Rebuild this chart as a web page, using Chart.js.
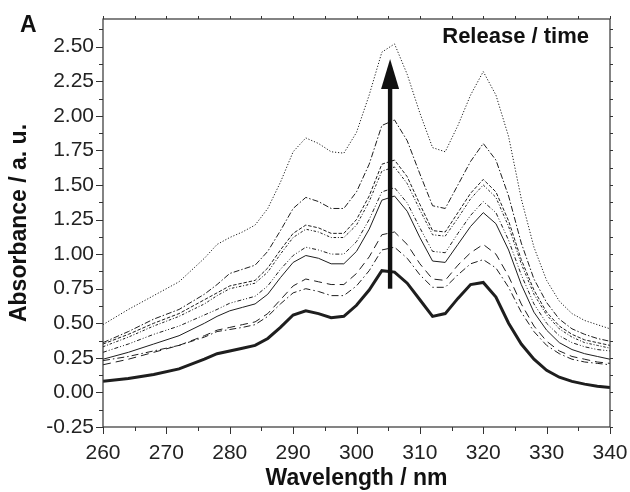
<!DOCTYPE html>
<html>
<head>
<meta charset="utf-8">
<script src="https://cdn.jsdelivr.net/npm/chart.js@4/dist/chart.umd.min.js"></script>
<style>
  html, body { margin: 0; padding: 0; background: #fff; }
  #wrap { width: 630px; height: 492px; position: relative; }
</style>
</head>
<body>
<div id="wrap"><canvas id="c" width="630" height="492"></canvas></div>
<script>
// ---- data ----
const wavelength = [260,264,268,272,276,278,280,282,284,286,288,290,292,294,296,298,300,302,304,306,308,310,312,314,316,318,320,322,324,326,328,330,332,334,336,338,340];

const curveDotted = [0.49,0.60,0.70,0.80,0.97, 1.07,1.12,1.16,1.21,1.33,1.52,1.74, 1.84,1.80,1.74,1.73,1.88,2.15,2.46, 2.52,2.30,2.02,1.77,1.74,1.93,2.15, 2.32,2.15,1.85,1.40,1.05,0.81,0.66, 0.57,0.52,0.49,0.46];
const curveDashDot1 = [0.36,0.44,0.53,0.60,0.71, 0.78,0.86,0.89,0.92,1.02,1.17,1.33, 1.41,1.38,1.33,1.33,1.45,1.65,1.93, 1.97,1.82,1.58,1.35,1.33,1.50,1.67, 1.80,1.68,1.42,1.08,0.82,0.65,0.53, 0.46,0.42,0.39,0.37];
const curveShortDash1 = [0.35,0.42,0.50,0.57,0.67, 0.72,0.77,0.79,0.81,0.90,1.03,1.15, 1.21,1.19,1.15,1.15,1.25,1.42,1.65, 1.68,1.56,1.36,1.17,1.16,1.30,1.44, 1.54,1.45,1.24,0.96,0.74,0.58,0.48, 0.42,0.38,0.36,0.34];
const curveShortDash2 = [0.33,0.40,0.48,0.55,0.64, 0.70,0.75,0.77,0.79,0.87,1.00,1.12, 1.18,1.16,1.12,1.12,1.21,1.38,1.60, 1.63,1.51,1.32,1.14,1.13,1.26,1.40, 1.50,1.41,1.20,0.93,0.71,0.56,0.46, 0.40,0.36,0.34,0.32];
const curveDashDotDot = [0.29,0.35,0.42,0.48,0.56, 0.60,0.645,0.67,0.695,0.77,0.89,0.99, 1.05,1.03,1.00,1.00,1.09,1.25,1.45, 1.48,1.37,1.19,1.02,1.01,1.15,1.28, 1.38,1.30,1.10,0.85,0.64,0.50,0.41, 0.36,0.33,0.31,0.30];
const curveSolid = [0.24,0.29,0.35,0.41,0.50, 0.55,0.59,0.615,0.64,0.71,0.83,0.94, 0.99,0.97,0.93,0.93,1.02,1.18,1.39, 1.42,1.31,1.12,0.95,0.94,1.07,1.20, 1.30,1.22,1.03,0.78,0.58,0.45,0.36, 0.31,0.28,0.26,0.24];
const curveLongDash = [0.20,0.24,0.29,0.34,0.41, 0.45,0.47,0.49,0.51,0.57,0.67,0.77, 0.82,0.80,0.78,0.78,0.86,0.98,1.14, 1.16,1.07,0.93,0.82,0.81,0.92,1.01, 1.07,1.00,0.84,0.64,0.48,0.37,0.30, 0.26,0.24,0.22,0.21];
const curveDashDot2 = [0.23,0.26,0.30,0.34,0.40, 0.44,0.455,0.47,0.49,0.55,0.64,0.72, 0.75,0.73,0.70,0.70,0.77,0.88,1.03, 1.05,0.97,0.85,0.76,0.76,0.85,0.93, 0.96,0.90,0.76,0.58,0.44,0.34,0.28, 0.24,0.22,0.21,0.20];
const curveInitial = [0.08,0.10,0.13,0.17,0.24, 0.28,0.30,0.32,0.34,0.39,0.47,0.56, 0.59,0.57,0.54,0.55,0.63,0.74,0.88, 0.87,0.79,0.67,0.55,0.57,0.68,0.78, 0.795,0.69,0.50,0.35,0.24,0.16,0.11, 0.08,0.06,0.045,0.035];

const xTicks = [260,270,280,290,300,310,320,330,340];
const yTicks = [-0.25,0,0.25,0.5,0.75,1,1.25,1.5,1.75,2,2.25,2.5];
const arrowX = 305.3, arrowFrom = 0.75, arrowTo = 2.41;

const panelLabel = 'A';
const annotation = 'Release / time';
const xTitle = 'Wavelength / nm';
const yTitle = 'Absorbance / a. u.';

// ---- chart ----
const FONT = "'Liberation Sans', Arial, Helvetica, sans-serif";
const INK = '#1e1e1e';

function series(values, dash, width) {
  return {
    data: wavelength.map((w, i) => ({ x: w, y: values[i] })),
    borderColor: INK,
    borderWidth: width || 1,
    borderDash: dash,
    pointRadius: 0,
    tension: 0,
    fill: false
  };
}

const framePlugin = {
  id: 'frame',
  afterDraw(chart) {
    const ctx = chart.ctx;
    const a = chart.chartArea;
    const xs = chart.scales.x, ys = chart.scales.y;
    ctx.save();
    ctx.strokeStyle = '#333';
    ctx.lineWidth = 1.2;
    ctx.strokeRect(a.left, a.top, a.right - a.left, a.bottom - a.top);
    ctx.lineWidth = 1;
    ctx.beginPath();
    for (let v = xs.min; v <= xs.max + 1e-9; v += 5) {
      const px = Math.round(xs.getPixelForValue(v)) + 0.5;
      const major = xTicks.includes(v);
      ctx.moveTo(px, a.bottom); ctx.lineTo(px, a.bottom + (major ? 7 : 4));
      ctx.moveTo(px, a.top); ctx.lineTo(px, a.top - 3);
    }
    for (let k = 0; k <= 23; k++) {
      const v = -0.25 + k * 0.125;
      const py = Math.round(ys.getPixelForValue(v)) + 0.5;
      const major = k % 2 === 0;
      ctx.moveTo(a.left, py); ctx.lineTo(a.left - (major ? 7 : 4), py);
      ctx.moveTo(a.right, py); ctx.lineTo(a.right + 3, py);
    }
    ctx.stroke();

    // arrow
    const ax = xs.getPixelForValue(arrowX);
    const y0 = ys.getPixelForValue(arrowFrom);
    const y1 = ys.getPixelForValue(arrowTo);
    const headLen = 30, headHalf = 9;
    ctx.fillStyle = '#111';
    ctx.fillRect(ax - 2.2, y1 + headLen - 2, 4.4, y0 - (y1 + headLen - 2));
    ctx.beginPath();
    ctx.moveTo(ax, y1);
    ctx.lineTo(ax + headHalf, y1 + headLen);
    ctx.lineTo(ax - headHalf, y1 + headLen);
    ctx.closePath();
    ctx.fill();

    // texts
    ctx.fillStyle = '#111';
    ctx.textBaseline = 'alphabetic';
    ctx.font = "bold 23px " + FONT;
    ctx.textAlign = 'left';
    ctx.fillText(panelLabel, 20, 32);
    ctx.font = "bold 22px " + FONT;
    ctx.textAlign = 'right';
    ctx.fillText(annotation, 589, 43);
    ctx.restore();
  }
};

new Chart(document.getElementById('c'), {
  type: 'line',
  data: {
    datasets: [
      series(curveDotted, [1.2, 1.8]),
      series(curveDashDot1, [6, 2, 1.5, 2]),
      series(curveShortDash1, [3.5, 1.8]),
      series(curveShortDash2, [2.5, 1.8, 1, 1.8]),
      series(curveDashDotDot, [4, 2, 1, 2, 1, 2]),
      series(curveSolid, []),
      series(curveLongDash, [8, 5]),
      series(curveDashDot2, [7, 3, 1.5, 3]),
      series(curveInitial, [], 3)
    ]
  },
  options: {
    responsive: false,
    animation: false,
    events: [],
    layout: { padding: { top: 19, right: 20, left: 0, bottom: 0 } },
    plugins: { legend: { display: false }, tooltip: { enabled: false } },
    scales: {
      x: {
        type: 'linear', min: 260, max: 340,
        afterFit(s) { s.height = 65; s.paddingLeft = 0; s.paddingRight = 0; },
        afterBuildTicks(s) { s.ticks = xTicks.map(v => ({ value: v })); },
        grid: { display: false, drawTicks: false },
        border: { display: false },
        ticks: { font: { size: 21, family: FONT }, color: '#222', padding: 14, maxRotation: 0 },
        title: { display: true, text: xTitle, font: { size: 23, weight: 'bold', family: FONT }, color: '#111', padding: { top: 0, bottom: 0 } }
      },
      y: {
        type: 'linear', min: -0.25, max: 2.70,
        afterFit(s) { s.width = 103; s.paddingTop = 0; s.paddingBottom = 0; },
        afterBuildTicks(s) { s.ticks = yTicks.map(v => ({ value: v })); },
        grid: { display: false, drawTicks: false },
        border: { display: false },
        ticks: { font: { size: 21, family: FONT }, color: '#222', padding: 9, callback: v => v.toFixed(2) },
        title: { display: true, text: yTitle, font: { size: 23, weight: 'bold', family: FONT }, color: '#111', padding: { top: 6, bottom: 0 } }
      }
    }
  },
  plugins: [framePlugin]
});
</script>
</body>
</html>
